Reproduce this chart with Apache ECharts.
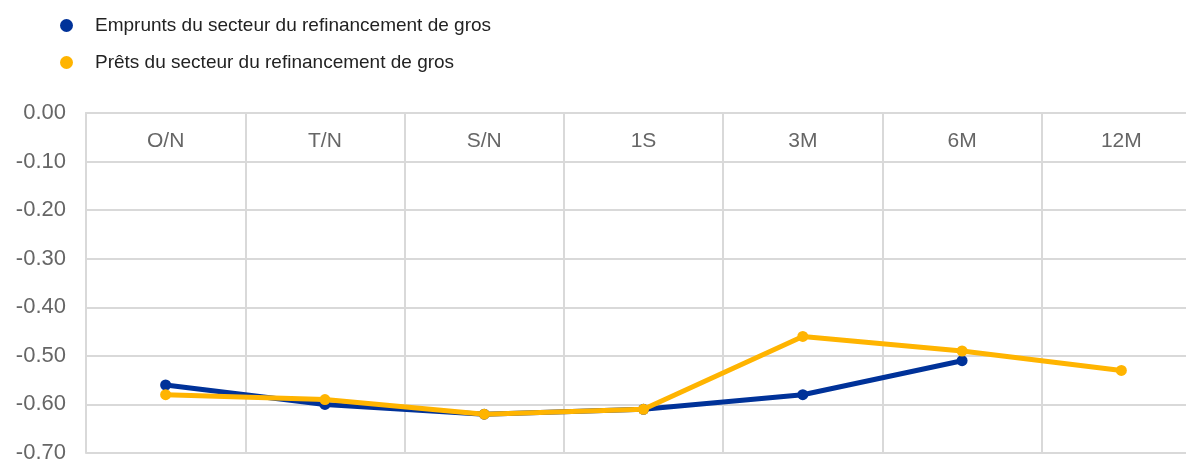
<!DOCTYPE html>
<html>
<head>
<meta charset="utf-8">
<script src="https://cdn.jsdelivr.net/npm/echarts@6/dist/echarts.min.js"></script>
<style>
  html, body { margin: 0; padding: 0; background: #fff; }
  #chart { width: 1186px; height: 460px; }
</style>
</head>
<body>
<div id="chart"></div>
<script>
// échéances
const categories = ['O/N', 'T/N', 'S/N', '1S', '3M', '6M', '12M'];
const seriesNames = ['Emprunts du secteur du refinancement de gros', 'Prêts du secteur du refinancement de gros'];
const emprunts = [-0.56, -0.60, -0.62, -0.61, -0.58, -0.51, null];
const prets = [-0.58, -0.59, -0.62, -0.61, -0.46, -0.49, -0.53];

const chart = echarts.init(document.getElementById('chart'));

const gridColor = '#d9d9d9';

chart.setOption({
  animation: false,
  textStyle: { fontFamily: 'Liberation Sans, Arial, sans-serif' },
  legend: {
    orient: 'vertical',
    left: 55,
    top: 11,
    icon: 'circle',
    itemWidth: 13,
    itemHeight: 13,
    itemGap: 18,
    textStyle: { fontSize: 19, color: '#222', padding: [0, 0, 0, 17] },
    data: seriesNames
  },
  grid: { left: 86, right: -15, top: 113, bottom: 7, outerBoundsMode: 'none' },
  xAxis: {
    type: 'category',
    position: 'top',
    data: categories,
    boundaryGap: true,
    axisLine: { show: true, lineStyle: { color: gridColor, width: 2 } },
    axisTick: { show: false },
    axisLabel: { inside: true, margin: 18, fontSize: 21, color: '#666' },
    splitLine: { show: true, lineStyle: { color: gridColor, width: 2 } }
  },
  yAxis: {
    type: 'value',
    min: -0.7,
    max: 0,
    interval: 0.1,
    axisLine: { show: true, lineStyle: { color: gridColor, width: 2 } },
    axisTick: { show: false },
    axisLabel: {
      fontSize: 22,
      color: '#666',
      margin: 20,
      formatter: v => Math.abs(v) < 1e-9 ? '0.00' : v.toFixed(2)
    },
    splitLine: { lineStyle: { color: gridColor, width: 2 } }
  },
  series: [
    {
      name: seriesNames[0],
      type: 'line',
      data: emprunts,
      color: '#003299',
      symbol: 'circle',
      symbolSize: 11,
      lineStyle: { width: 5 },
      z: 2
    },
    {
      name: seriesNames[1],
      type: 'line',
      data: prets,
      color: '#ffb400',
      symbol: 'circle',
      symbolSize: 11,
      lineStyle: { width: 5 },
      z: 3
    }
  ]
});
</script>
</body>
</html>
